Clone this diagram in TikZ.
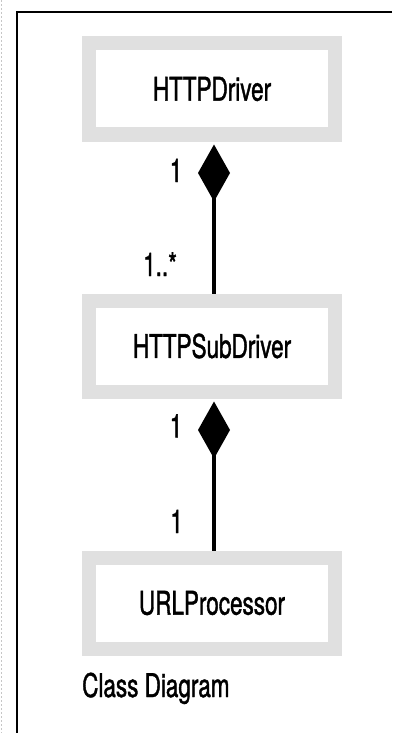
\documentclass[tikz,border=0pt]{standalone}
\usepackage{fontspec}
\setmainfont{TeX Gyre Heros}[FakeStretch=0.69,FakeBold=1.2]
\usetikzlibrary{positioning,arrows.meta}
\definecolor{boxgray}{RGB}{224,224,224}
\tikzset{
  cls/.style={rectangle, draw=boxgray, line width=14pt, fill=white, minimum width=246pt, minimum height=91pt, font=\fontsize{32.6}{34}\selectfont},
  compose/.style={{Diamond[length=57pt,width=32pt]}-, line width=3.2pt, shorten <=3pt},
  mult/.style={font=\fontsize{32.6}{34}\selectfont, inner sep=0pt}
}

\begin{document}
\begin{tikzpicture}[x=1pt,y=-1pt]
  \useasboundingbox (0,0) rectangle (392,733);

  % page edge and frame
  \draw[gray!45, line width=0.8pt, dash pattern=on 2pt off 2pt] (1,0) -- (1,733);
  \draw[line width=2.6pt] (392,12) -- (17,12) -- (17,733);

  % classes
  \node[cls] (driver) at (212,89) {HTTPDriver};
  \node[cls, below=152pt of driver] (subdriver) {HTTPSubDriver};
  \node[cls, below=152pt of subdriver] (urlproc) {URLProcessor};

  % compositions
  \draw[compose] ([xshift=2pt]driver.south) -- ([xshift=2pt]subdriver.north);
  \draw[compose] ([xshift=2pt]subdriver.south) -- ([xshift=2pt]urlproc.north);

  % multiplicities
  \node[mult, anchor=base] (m1) at (176,182) {1};
  \node[mult, anchor=base west] (m2) at (143,276) {1..*};
  \node[mult, anchor=base] (m3) at (176,437.5) {1};
  \node[mult, anchor=base] (m4) at (176.5,533) {1};

  \node[mult, anchor=base west] (title) at (82,697) {Class Diagram};
\end{tikzpicture}
\end{document}
